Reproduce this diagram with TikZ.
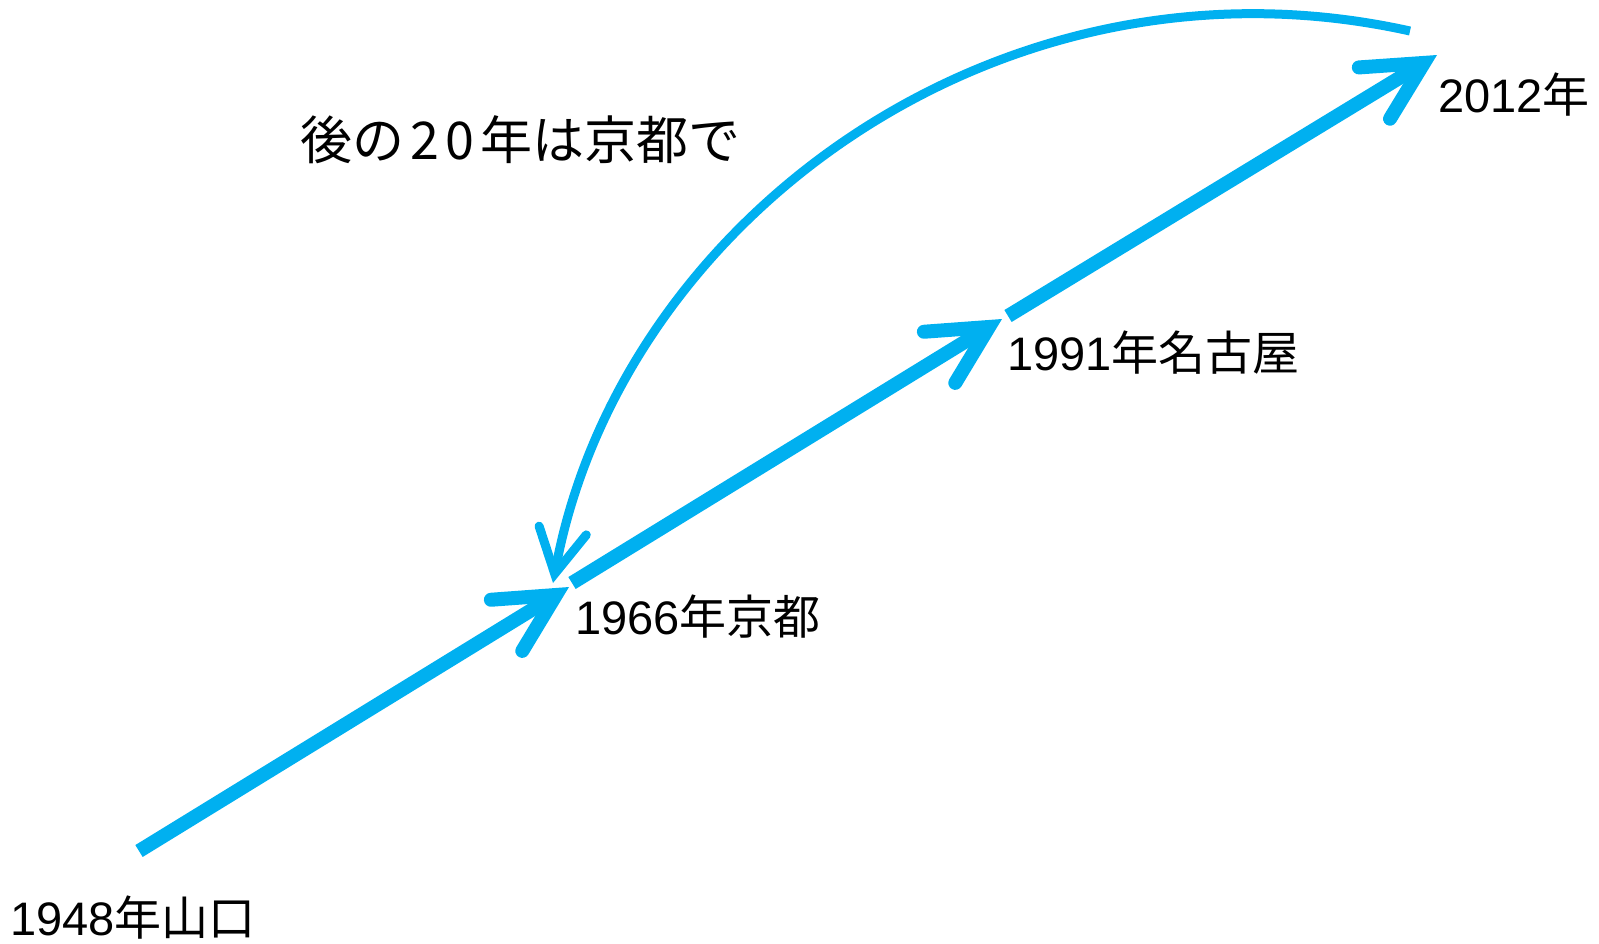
\documentclass[tikz,border=0pt]{standalone}
\usepackage{fontspec}
\setmainfont{Liberation Sans}
\newfontfamily\jp{Noto Sans CJK JP}
\usepackage{tikz}
\usetikzlibrary{positioning, arrows.meta}
\definecolor{sky}{RGB}{0,176,240}
\tikzstyle{step arrow}=[draw=sky, line width=7pt, -{Straight Barb[length=29pt, width=30pt, line cap=round]}]
\tikzstyle{back arrow}=[draw=sky, line width=4.5pt, -{Straight Barb[length=22pt, width=24pt, line cap=round]}]
\tikzstyle{place}=[anchor=west, inner sep=0pt, font=\fontsize{23.5}{28}\selectfont]

\begin{document}
\begin{tikzpicture}[x=0.5pt, y=-0.5pt]
        \useasboundingbox (0,0) rectangle (1599,943);

        % Les points
        \coordinate (y1948) at (139,851);
        \coordinate (y1966) at (569,587);
        \coordinate (s1966) at (572,583);
        \coordinate (y1991) at (1002,319);
        \coordinate (s1991) at (1008,316);
        \coordinate (y2012) at (1437,55);
        \coordinate (c2012) at (1410,31);
        \coordinate (c1966) at (553,583);

        % Les villes
        \node[place] (yamaguchi) at (10,918) {1948\jp 年山口};
        \node[place] (kyoto) at (575,617) {1966\jp 年京都};
        \node[place] (nagoya) at (1007,353) {1991\jp 年名古屋};
        \node[place] (now) at (1438,95) {2012\jp 年};
        \node[place, font=\fontsize{26}{30}\selectfont\jp] (note) at (300,140) {後の\kern.12em2\kern.12em0\kern.12em年は京都で};

        % Les flèches
        \draw[step arrow] (y1948) -- (y1966);
        \draw[step arrow] (s1966) -- (y1991);
        \draw[step arrow] (s1991) -- (y2012);
        \draw[back arrow] (c2012) .. controls (1000,-60) and (620,220) .. (c1966);
    \end{tikzpicture}
\end{document}
